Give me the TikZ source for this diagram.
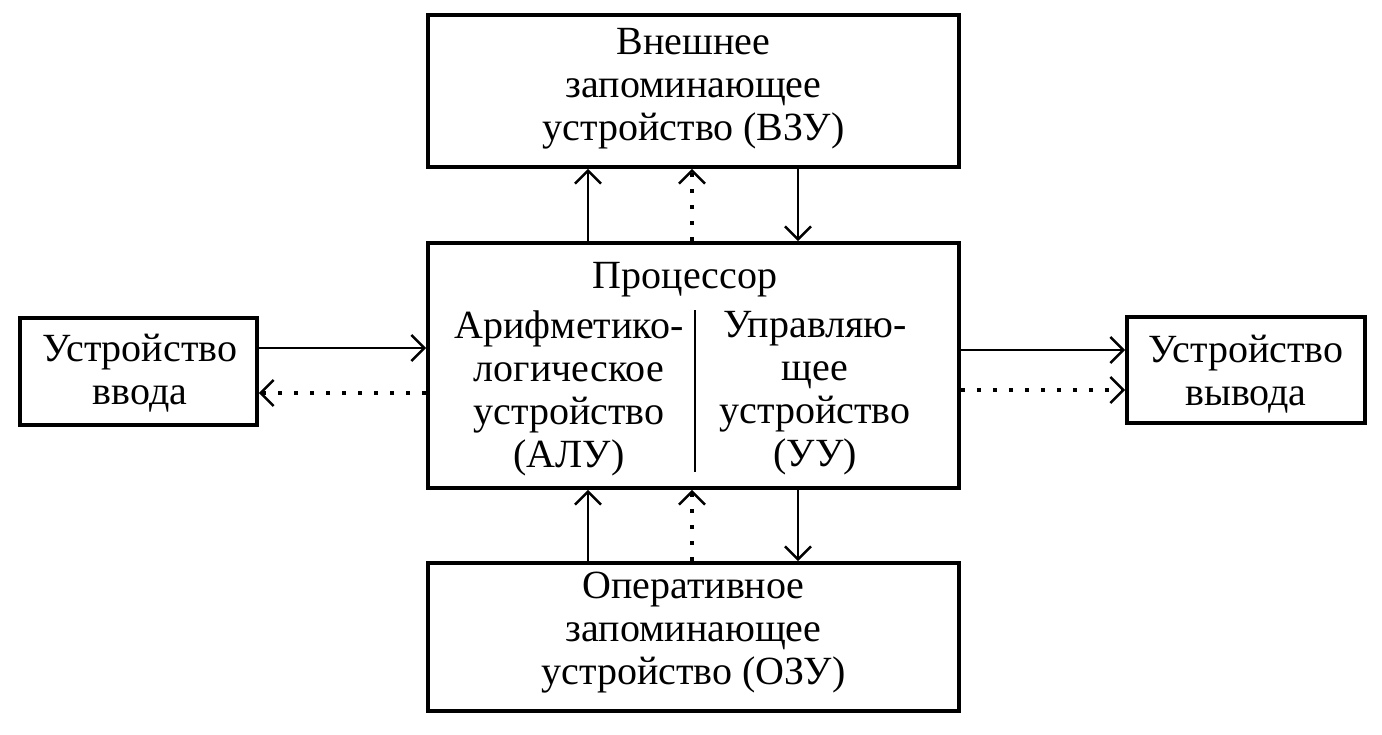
\documentclass[tikz,border=0pt]{standalone}
\usepackage{fontspec}
\setmainfont{Liberation Serif}
\usetikzlibrary{arrows.meta}
\tikzset{
  box/.style={draw, line width=3.6pt, rectangle, inner sep=0pt},
  txt/.style={inner sep=0pt, align=center, font=\fontsize{40}{43}\selectfont},
  conn/.style={line width=2.6pt, -{Straight Barb[length=13pt,width=26pt,line width=2.6pt]}},
  dotconn/.style={conn, line width=3.6pt, dash pattern=on 4pt off 12pt},
}
\begin{document}
\begin{tikzpicture}[x=1pt,y=-1pt]
\useasboundingbox (0,0) rectangle (1382,734);
% boxes
\node[box, minimum width=531pt, minimum height=152pt] (vzu) at (693.5,91) {};
\node[box, minimum width=531pt, minimum height=245pt] (cpu) at (693.5,365.5) {};
\node[box, minimum width=531pt, minimum height=148pt] (ozu) at (693.5,637) {};
\node[box, minimum width=237pt, minimum height=107pt] (inp) at (138.5,371.5) {};
\node[box, minimum width=238pt, minimum height=106pt] (outp) at (1246,370) {};
% texts
\node[txt] (vzut) at (693.5,89) {Внешнее\\запоминающее\\устройство (ВЗУ)};
\node[txt] (ozut) at (693.5,633) {Оперативное\\запоминающее\\устройство (ОЗУ)};
\node[txt] (inpt) at (140,373) {Устройство\\ввода};
\node[txt] (outpt) at (1246,374) {Устройство\\вывода};
\node[txt] (cput) at (685,280) {Процессор};
\node[txt] (alu) at (569,393) {Арифметико-\\логическое\\устройство\\(АЛУ)};
\node[txt] (uu) at (815,393) {Управляю-\\щее\\устройство\\(УУ)};
\coordinate (d1) at (695,310);
\coordinate (d2) at (695,472);
\draw[line width=2.6pt] (d1) -- (d2);
% vertical connectors top
\draw[conn] (cpu.north -| 588,0) -- (vzu.south -| 588,0);
\draw[dotconn] (cpu.north -| 692,0) -- (vzu.south -| 692,0);
\draw[conn] (vzu.south -| 798,0) -- (cpu.north -| 798,0);
% vertical connectors bottom
\draw[conn] (ozu.north -| 588,0) -- (cpu.south -| 588,0);
\draw[dotconn] (ozu.north -| 692,0) -- (cpu.south -| 692,0);
\draw[conn] (cpu.south -| 798,0) -- (ozu.north -| 798,0);
% horizontal connectors
\draw[conn] (inp.east |- 0,348) -- (cpu.west |- 0,348);
\draw[dotconn] (cpu.west |- 0,393) -- (inp.east |- 0,393);
\draw[conn] (cpu.east |- 0,350) -- (outp.west |- 0,350);
\draw[dotconn] (cpu.east |- 0,390) -- (outp.west |- 0,390);
\end{tikzpicture}
\end{document}
